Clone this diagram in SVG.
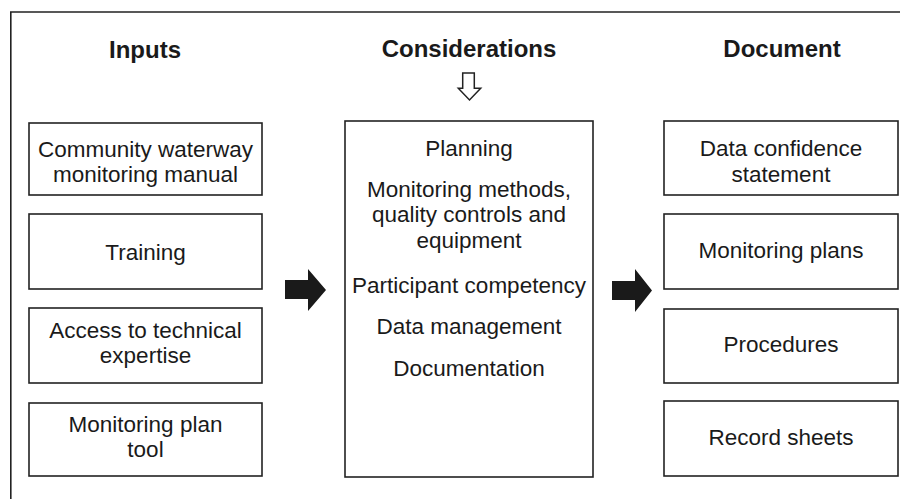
<svg xmlns="http://www.w3.org/2000/svg" width="900" height="499" viewBox="0 0 900 499">
<style>
.box{fill:#fff;stroke:#222;stroke-width:1.6}
.t{font-family:"Liberation Sans",Arial,sans-serif;font-size:22.5px;fill:#1a1a1a;text-anchor:middle}
.h{font-family:"Liberation Sans",Arial,sans-serif;font-size:24px;font-weight:bold;fill:#1a1a1a;text-anchor:middle}
.arr{fill:#1a1a1a}
</style>
<rect width="900" height="499" fill="#fff"/>
<path d="M10.8,499 V12 H900" fill="none" stroke="#222" stroke-width="1.6"/>
<g id="headings">
<text class="h" x="145" y="58">Inputs</text>
<text class="h" x="469" y="57">Considerations</text>
<text class="h" x="782" y="57">Document</text>
</g>
<g id="in1"><rect class="box" x="29" y="123" width="233" height="72"/>
<text class="t" x="145.5" y="157">Community waterway</text><text class="t" x="145.5" y="182">monitoring manual</text></g>
<g id="in2"><rect class="box" x="29" y="214" width="233" height="75"/>
<text class="t" x="145.5" y="260">Training</text></g>
<g id="in3"><rect class="box" x="29" y="308" width="233" height="75"/>
<text class="t" x="145.5" y="338">Access to technical</text><text class="t" x="145.5" y="363">expertise</text></g>
<g id="in4"><rect class="box" x="29" y="403" width="233" height="73"/>
<text class="t" x="145.5" y="432">Monitoring plan</text><text class="t" x="145.5" y="457">tool</text></g>
<g id="cons"><rect class="box" x="345" y="121" width="248" height="356"/>
<text class="t" x="469" y="156">Planning</text>
<text class="t" x="469" y="197">Monitoring methods,</text>
<text class="t" x="469" y="222">quality controls and</text>
<text class="t" x="469" y="248">equipment</text>
<text class="t" x="469" y="293">Participant competency</text>
<text class="t" x="469" y="334">Data management</text>
<text class="t" x="469" y="376">Documentation</text></g>
<g id="doc1"><rect class="box" x="664" y="121" width="234" height="74"/>
<text class="t" x="781" y="156">Data confidence</text><text class="t" x="781" y="182">statement</text></g>
<g id="doc2"><rect class="box" x="664" y="214" width="234" height="75"/>
<text class="t" x="781" y="258">Monitoring plans</text></g>
<g id="doc3"><rect class="box" x="664" y="309" width="234" height="74"/>
<text class="t" x="781" y="352">Procedures</text></g>
<g id="doc4"><rect class="box" x="664" y="401" width="234" height="75"/>
<text class="t" x="781" y="445">Record sheets</text></g>
<g id="connectors">
<path d="M462.7,73 H474.3 V88.3 H480.7 L469.5,100 L458.3,88.3 H462.7 Z" fill="#fff" stroke="#222" stroke-width="1.5"/>
<path class="arr" d="M285,280 H308 V269 L326,290 L308,311 V299 H285 Z"/>
<path class="arr" d="M612,281 H635 V269 L652,290.5 L635,312 V300 H612 Z"/>
</g>
</svg>
